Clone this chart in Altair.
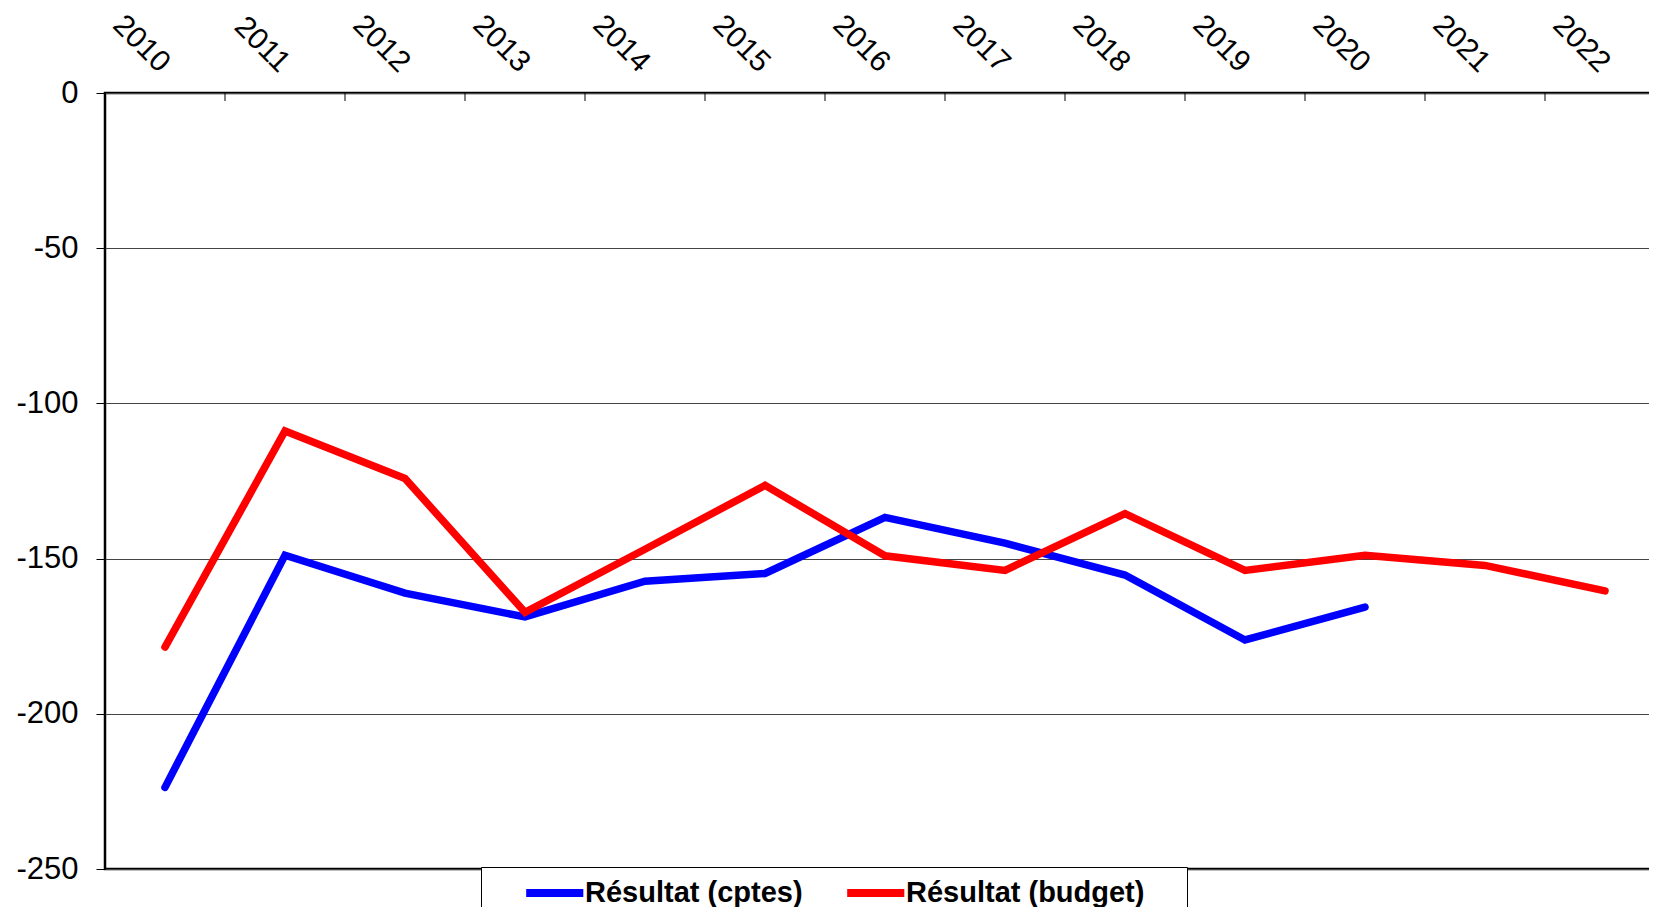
import altair as alt
import pandas as pd

years = [str(y) for y in range(2010, 2023)]
cptes_years = [str(y) for y in range(2010, 2021)]
cptes = [-223.7, -148.9, -161.1, -168.8, -157.3, -154.8, -136.7, -145.0, -155.3, -176.2, -165.6]
budget = [-178.5, -108.9, -124.2, -167.3, -147.0, -126.4, -149.1, -153.8, -135.5, -153.8, -148.9, -152.2, -160.4]
series_names = ["Résultat (cptes)", "Résultat (budget)"]
series_colors = ["#0000FF", "#FF0000"]
y_ticks = [-250, -200, -150, -100, -50, 0]

rows = []
for yr, v in zip(cptes_years, cptes):
    rows.append({"year": yr, "serie": series_names[0], "value": v})
for yr, v in zip(years, budget):
    rows.append({"year": yr, "serie": series_names[1], "value": v})
df = pd.DataFrame(rows)
ticks_df = pd.DataFrame({"year": years[1:]})

FONT = "Liberation Sans"
NBSP = "\u00a0"

x_axis = alt.Axis(orient="top", title=None, ticks=False, domain=False, labelAngle=45,
                  labelAlign="right", labelBaseline="middle", labelPadding=26,
                  labelFontSize=30, labelFont=FONT, labelColor="black")
x_scale = alt.Scale(type="band", domain=years, paddingInner=0, paddingOuter=0)

y_enc = alt.Y("value:Q", scale=alt.Scale(domain=[-250, 0], nice=False),
              axis=alt.Axis(values=y_ticks, title=None, grid=True, gridColor="#444444",
                            gridWidth=1, tickSize=9, tickColor="black", tickWidth=1,
                            domain=False, labelFontSize=31, labelFont=FONT,
                            labelColor="black", labelPadding=18,
                            labelExpr="datum.value < 0 ? '-' + abs(datum.value) : '' + datum.value"))

color_enc = alt.Color("serie:N",
                      scale=alt.Scale(domain=series_names, range=series_colors),
                      legend=alt.Legend(title=NBSP, titleOrient="right", titlePadding=35,
                                        titleFontSize=12,
                                        orient="none", legendX=376, legendY=774,
                                        direction="horizontal", symbolType="M-3,0H1.2",
                                        symbolStrokeWidth=8, symbolSize=740,
                                        labelFontSize=29, labelFontWeight="bold",
                                        labelFont=FONT, labelColor="black", labelLimit=600,
                                        strokeColor="black", fillColor="white", padding=8,
                                        columnPadding=7, labelOffset=0, symbolOffset=60))

base = alt.Chart(df)

def line_layer(name):
    return base.transform_filter(alt.datum.serie == name).mark_line(
        strokeWidth=7.5, strokeCap="round", strokeJoin="miter"
    ).encode(
        x=alt.X("year:N", scale=x_scale, axis=x_axis, bandPosition=0.5),
        y=y_enc,
        color=color_enc,
    )

tick_layer = alt.Chart(ticks_df).mark_rule(color="black", strokeWidth=1).encode(
    x=alt.X("year:N", scale=x_scale, axis=x_axis, bandPosition=0),
    y=alt.value(0),
    y2=alt.value(8),
)

chart = alt.layer(tick_layer, line_layer(series_names[0]), line_layer(series_names[1])).properties(
    width=1560, height=776,
    padding={"left": 97, "top": 85, "right": -16, "bottom": 38},
    autosize=alt.AutoSizeParams(type="none"),
    background="white",
).configure_view(stroke="black", strokeWidth=2.5)

chart.save("out.html", embed_options={"renderer": "svg", "actions": False})
